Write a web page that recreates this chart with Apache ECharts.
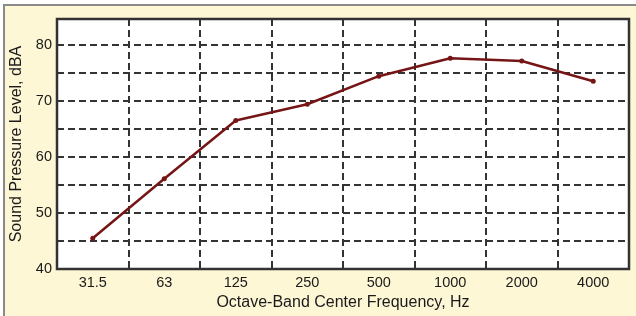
<!DOCTYPE html>
<html>
<head>
<meta charset="utf-8">
<script src="https://cdn.jsdelivr.net/npm/echarts@6/dist/echarts.min.js"></script>
<style>
  html, body { margin: 0; padding: 0; background: #fff; }
  .frame {
    position: absolute; left: 3px; top: 4px; width: 640px; height: 320px;
    background: #fdf7d6; border-left: 2px solid #8a8a8a; border-top: 2px solid #8a8a8a;
  }
  #chart { position: absolute; left: 0; top: 0; width: 636px; height: 316px; }
</style>
</head>
<body>
<div class="frame"></div>
<div id="chart"></div>
<script>
  const categories = ['31.5', '63', '125', '250', '500', '1000', '2000', '4000']
  const splValues = [45.5, 56.1, 66.5, 69.4, 74.4, 77.6, 77.1, 73.5]
  const yLabels = [40, 50, 60, 70, 80]

  const chart = echarts.init(document.getElementById('chart'))

  chart.setOption({
    backgroundColor: 'transparent',
    grid: {
      left: 57,
      right: 7,
      top: 19,
      bottom: 45,
      show: true,
      backgroundColor: '#fff',
      borderColor: '#333',
      borderWidth: 2.5
    },
    xAxis: {
      type: 'category',
      data: categories,
      boundaryGap: true,
      name: 'Octave-Band Center Frequency, Hz',
      nameLocation: 'middle',
      nameGap: 16,
      nameTextStyle: { fontFamily: 'Liberation Sans', fontSize: 16, color: '#1a1a1a' },
      axisLine: { show: false },
      axisTick: { show: false },
      axisLabel: { fontFamily: 'Liberation Sans', fontSize: 14.5, color: '#1a1a1a', margin: 6 },
      splitLine: {
        show: true,
        interval: 0,
        lineStyle: { color: '#333', width: 2, type: [7, 4] }
      }
    },
    yAxis: {
      type: 'value',
      min: 40,
      max: 84.6,
      interval: 5,
      name: 'Sound Pressure Level, dBA',
      nameLocation: 'middle',
      nameGap: 31,
      nameTextStyle: { fontFamily: 'Liberation Sans', fontSize: 16, color: '#1a1a1a' },
      axisLine: { show: false },
      axisTick: { show: false },
      axisLabel: {
        fontFamily: 'Liberation Sans',
        fontSize: 14.5,
        color: '#1a1a1a',
        margin: 5,
        showMaxLabel: false,
        formatter: v => (yLabels.indexOf(v) >= 0 ? String(v) : '')
      },
      splitLine: {
        show: true,
        lineStyle: { color: '#333', width: 2, type: [7, 4] }
      }
    },
    series: [
      {
        type: 'line',
        data: splValues,
        symbol: 'circle',
        symbolSize: 5,
        lineStyle: { width: 2.5, color: '#761515' },
        itemStyle: { color: '#761515' }
      }
    ]
  })
</script>
</body>
</html>
